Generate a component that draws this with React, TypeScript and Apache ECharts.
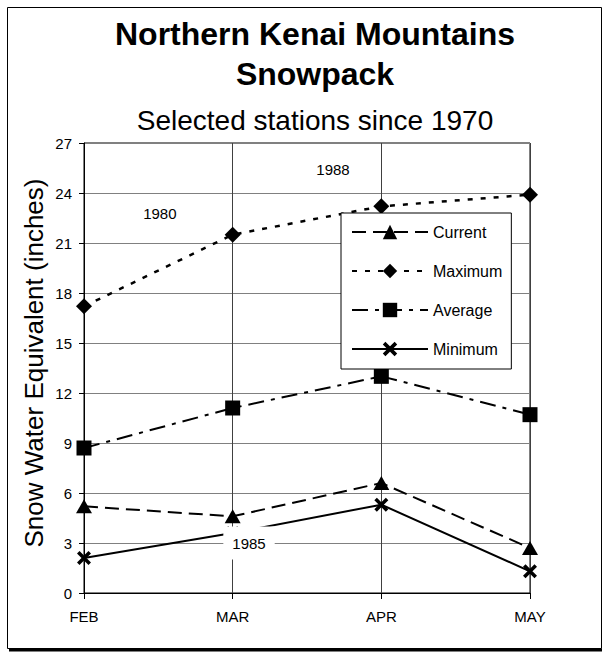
import React, { useEffect, useRef } from "react";
import * as echarts from "echarts";

const months = ["FEB", "MAR", "APR", "MAY"];
const current = [5.2, 4.6, 6.6, 2.7];
const maximum = [17.2, 21.5, 23.2, 23.9];
const average = [8.7, 11.1, 13.0, 10.7];
const minimum = [2.1, 3.6, 5.3, 1.3];
const yTicks = { min: 0, max: 27, interval: 3 };

// year annotations, anchored in data space (category index, value)
const noteText = ["1980", "1988", "1985"];
const noteCat = [0.51, 1.675, 1.11];
const noteVal = [22.8, 25.4, 3.0];

const FONT = '"Liberation Sans", Arial, sans-serif';
const X_SYMBOL =
  "path://M0,1.8 L1.8,0 L10,8.2 L8.2,10 Z M8.2,0 L10,1.8 L1.8,10 L0,8.2 Z";

export default function App() {
  const ref = useRef<HTMLDivElement>(null);
  useEffect(() => {
    if (!ref.current) return;
    const chart = echarts.init(ref.current, null, { renderer: "svg" });
    const option: any = {
      animation: false,
      backgroundColor: "#fff",
      textStyle: { fontFamily: FONT },
      grid: {
        left: 84,
        right: 72,
        top: 143,
        bottom: 59,
        show: true,
        borderColor: "#000",
        borderWidth: 1,
        outerBoundsMode: "none",
      },
      legend: {
        orient: "vertical",
        left: 341,
        top: 213,
        backgroundColor: "#fff",
        borderColor: "#000",
        borderWidth: 1,
        borderRadius: 0,
        padding: [11, 9, 12, 10],
        itemWidth: 76,
        itemHeight: 18,
        itemGap: 23,
        itemTextGap: 5,
        textStyle: { fontSize: 16, color: "#000", fontFamily: FONT },
        data: ["Current", "Maximum", "Average", "Minimum"],
      },
      xAxis: {
        type: "category",
        data: months,
        boundaryGap: false,
        axisLine: { lineStyle: { color: "#000", width: 1 } },
        axisTick: { show: true, length: 6, lineStyle: { color: "#000" } },
        axisLabel: { fontSize: 15, color: "#000", margin: 16, fontFamily: FONT },
        splitLine: { show: true, lineStyle: { color: "#404040", width: 1 } },
      },
      yAxis: {
        type: "value",
        min: yTicks.min,
        max: yTicks.max,
        interval: yTicks.interval,
        axisLine: { show: true, lineStyle: { color: "#000", width: 1 } },
        axisTick: { show: true, length: 5, lineStyle: { color: "#000" } },
        axisLabel: { fontSize: 15, color: "#000", margin: 12, fontFamily: FONT },
        splitLine: { show: true, lineStyle: { color: "#808080", width: 1 } },
      },
      series: [
        {
          name: "Current",
          type: "line",
          data: current,
          symbol: "triangle",
          symbolSize: [16, 14],
          itemStyle: { color: "#000" },
          lineStyle: { color: "#000", width: 2, type: [14, 7] },
          z: 3,
        },
        {
          name: "Maximum",
          type: "line",
          data: maximum,
          symbol: "diamond",
          symbolSize: [16, 16],
          itemStyle: { color: "#000" },
          lineStyle: { color: "#000", width: 2.5, type: [5, 8] },
        },
        {
          name: "Average",
          type: "line",
          data: average,
          symbol: "rect",
          symbolSize: 15,
          itemStyle: { color: "#000" },
          lineStyle: { color: "#000", width: 2, type: [16, 7, 4, 7] },
        },
        {
          name: "Minimum",
          type: "line",
          data: minimum,
          symbol: X_SYMBOL,
          symbolSize: 14,
          itemStyle: { color: "#000" },
          lineStyle: { color: "#000", width: 2, type: "solid" },
        },
      ],
    };
    chart.setOption(option);

    const toPx = (c: number, v: number) => {
      const i0 = Math.floor(c);
      const i1 = Math.min(i0 + 1, months.length - 1);
      const a = chart.convertToPixel({ gridIndex: 0 }, [i0, v]) as number[];
      const b = chart.convertToPixel({ gridIndex: 0 }, [i1, v]) as number[];
      const f = c - i0;
      return [a[0] + (b[0] - a[0]) * f, a[1]];
    };

    const notes = noteText.map((t, i) => {
      const p = toPx(noteCat[i], noteVal[i]);
      const boxed = t === "1985";
      return {
        type: "text",
        z: 100,
        x: p[0],
        y: p[1],
        style: {
          text: t,
          fill: "#000",
          font: `15px ${FONT}`,
          align: "center",
          verticalAlign: "middle",
          backgroundColor: boxed ? "#fff" : undefined,
          padding: boxed ? [9, 9, 9, 9] : 0,
        },
      };
    });

    chart.setOption({
      graphic: [
        {
          type: "rect",
          z: 0,
          shape: { x: 7.5, y: 7.5, width: 594, height: 641 },
          style: { fill: "none", stroke: "#000", lineWidth: 1 },
          silent: true,
        },
        {
          type: "line",
          z: 0,
          shape: { x1: 9, y1: 650, x2: 602, y2: 650 },
          style: { stroke: "#000", lineWidth: 3 },
          silent: true,
        },
        {
          type: "text",
          z: 100,
          x: 315,
          y: 34,
          style: {
            text: "Northern Kenai Mountains",
            fill: "#000",
            font: `bold 32px ${FONT}`,
            align: "center",
            verticalAlign: "middle",
          },
        },
        {
          type: "text",
          z: 100,
          x: 315,
          y: 74,
          style: {
            text: "Snowpack",
            fill: "#000",
            font: `bold 32px ${FONT}`,
            align: "center",
            verticalAlign: "middle",
          },
        },
        {
          type: "text",
          z: 100,
          x: 315,
          y: 120,
          style: {
            text: "Selected stations since 1970",
            fill: "#000",
            font: `28px ${FONT}`,
            align: "center",
            verticalAlign: "middle",
          },
        },
        {
          type: "text",
          z: 100,
          x: 34,
          y: 363,
          rotation: Math.PI / 2,
          style: {
            text: "Snow Water Equivalent (inches)",
            fill: "#000",
            font: `26px ${FONT}`,
            align: "center",
            verticalAlign: "middle",
          },
        },
        ...notes,
      ],
    });

    return () => chart.dispose();
  }, []);
  return (
    <div
      ref={ref}
      style={{ position: "fixed", left: 0, top: 0, width: 602, height: 652 }}
    />
  );
}
